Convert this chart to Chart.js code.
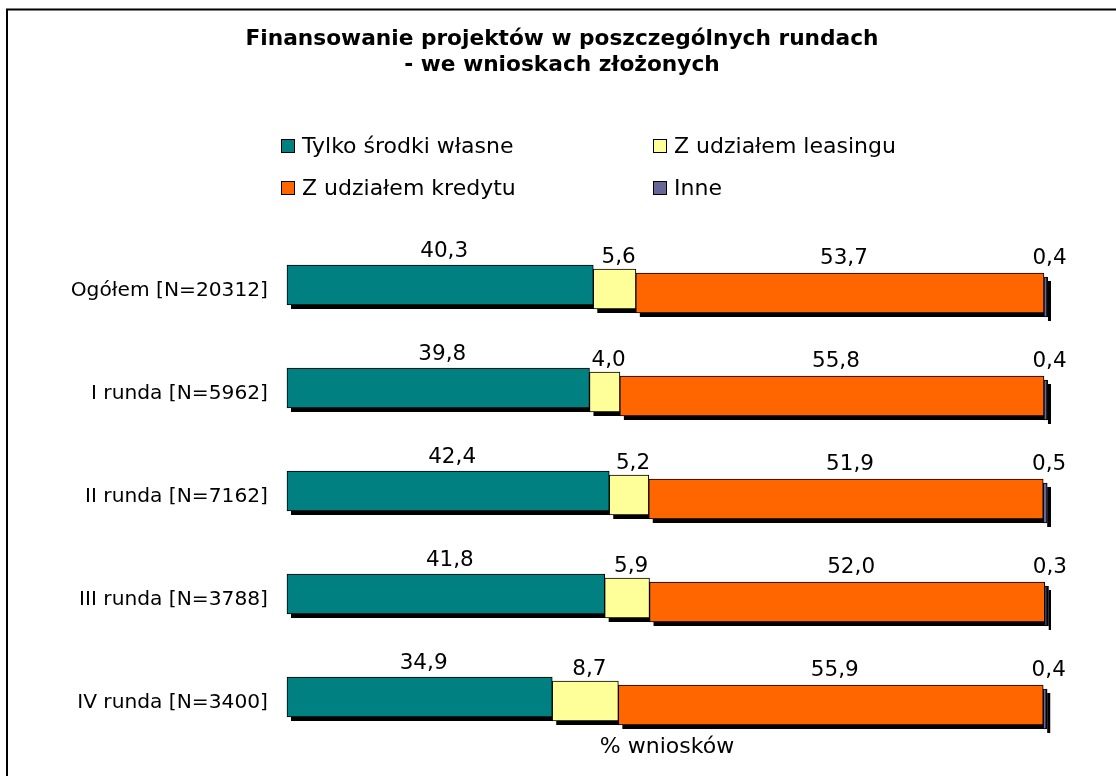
<!DOCTYPE html>
<html>
<head>
<meta charset="utf-8">
<script src="https://cdn.jsdelivr.net/npm/chart.js@4.4.0/dist/chart.umd.min.js"></script>
<style>
html,body{margin:0;padding:0;background:#fff;}
#wrap{position:relative;width:1116px;height:776px;overflow:hidden;}
canvas{display:block;}
</style>
</head>
<body>
<div id="wrap"><canvas id="c" width="1116" height="776"></canvas></div>
<script>
// ---- data ----
const categories = ['Ogółem [N=20312]', 'I runda [N=5962]', 'II runda [N=7162]', 'III runda [N=3788]', 'IV runda [N=3400]'];
const seriesNames = ['Tylko środki własne', 'Z udziałem leasingu', 'Z udziałem kredytu', 'Inne'];
const ownFunds = [40.3, 39.8, 42.4, 41.8, 34.9];
const leasing  = [5.6, 4.0, 5.2, 5.9, 8.7];
const credit   = [53.7, 55.8, 51.9, 52.0, 55.9];
const other    = [0.4, 0.4, 0.5, 0.3, 0.4];
const titleLines = ['Finansowanie projektów w poszczególnych rundach', '- we wnioskach złożonych'];
const axisTitle = '% wniosków';

// ---- style ----
const FONT = 'DejaVu Sans';
const colors = ['#008080', '#FFFF99', '#FF6600', '#666699'];
const depthShift = [-6, -2, 2, 6];        // pseudo-3D stagger per series
const labelShift = [-40, -34, -33, -33];  // label centre relative to category centre
const labelDX = 4;
const fmt = v => v.toFixed(1).replace('.', ',');

const seriesValues = [ownFunds, leasing, credit, other];

const frame = {
  id: 'frame',
  beforeDraw(chart) {
    const ctx = chart.ctx;
    ctx.save();
    ctx.fillStyle = '#fff';
    ctx.fillRect(0, 0, chart.width, chart.height);
    ctx.strokeStyle = '#000';
    ctx.lineWidth = 2;
    ctx.strokeRect(7, 9.5, chart.width + 50, chart.height + 50);
    ctx.restore();
  }
};

// let the long category labels extend left of the layout padding
const labelRoom = {
  id: 'labelRoom',
  afterLayout(chart) {
    chart.scales.y.left = 0;
  }
};

const depth = {
  id: 'depth',
  beforeDatasetsDraw(chart) {
    const ctx = chart.ctx;
    ctx.save();
    ctx.fillStyle = '#000';
    chart.data.datasets.forEach((ds, i) => {
      const meta = chart.getDatasetMeta(i);
      meta.data.forEach(el => {
        const p = el.getProps(['x', 'y', 'base', 'height'], true);
        const left = Math.min(p.x, p.base);
        const w = Math.abs(p.x - p.base);
        ctx.fillRect(left + 4, p.y - p.height / 2 + depthShift[i] + 4, w, p.height);
      });
    });
    ctx.restore();
  },
  beforeDatasetDraw(chart, args) {
    chart.ctx.save();
    chart.ctx.translate(0, depthShift[args.index]);
  },
  afterDatasetDraw(chart) {
    chart.ctx.restore();
  },
  afterDatasetsDraw(chart) {
    const ctx = chart.ctx;
    ctx.save();
    ctx.font = '21.5px "' + FONT + '"';
    ctx.fillStyle = '#000';
    ctx.textAlign = 'center';
    ctx.textBaseline = 'middle';
    chart.data.datasets.forEach((ds, i) => {
      const meta = chart.getDatasetMeta(i);
      meta.data.forEach((el, j) => {
        const p = el.getProps(['x', 'y', 'base'], true);
        ctx.fillText(fmt(ds.data[j]), (p.x + p.base) / 2 + labelDX, p.y + labelShift[i]);
      });
    });
    ctx.restore();
  }
};

const legend2x2 = {
  id: 'legend2x2',
  afterDraw(chart) {
    const ctx = chart.ctx;
    const colX = [281, 653];
    const rowY = [146, 188];
    ctx.save();
    ctx.font = '22px "' + FONT + '"';
    ctx.textBaseline = 'middle';
    ctx.textAlign = 'left';
    chart.data.datasets.forEach((ds, i) => {
      const cx = colX[i % 2], cy = rowY[Math.floor(i / 2)];
      ctx.fillStyle = ds.backgroundColor;
      ctx.fillRect(cx, cy - 7, 14, 14);
      ctx.strokeStyle = '#000';
      ctx.lineWidth = 1;
      ctx.strokeRect(cx + 0.5, cy - 6.5, 13, 13);
      ctx.fillStyle = '#000';
      ctx.fillText(ds.label, cx + 21, cy + 1);
    });
    ctx.restore();
  }
};

Chart.defaults.font.family = FONT;
Chart.defaults.color = '#000';

new Chart(document.getElementById('c'), {
  type: 'bar',
  data: {
    labels: categories,
    datasets: seriesValues.map((vals, i) => ({
      label: seriesNames[i],
      data: vals,
      backgroundColor: colors[i],
      borderColor: '#000',
      borderWidth: 1,
      borderSkipped: false,
      barThickness: 40,
      clip: false
    }))
  },
  options: {
    indexAxis: 'y',
    responsive: false,
    animation: false,
    devicePixelRatio: 1,
    layout: { padding: { top: 10, left: 77, right: 69, bottom: 15.8 } },
    plugins: {
      legend: { display: false },
      tooltip: { enabled: false },
      title: {
        display: true,
        text: titleLines,
        color: '#000',
        font: { family: FONT, size: 21.7, weight: 'bold', lineHeight: 26 / 21.7 },
        padding: { top: 16, bottom: 161.5 }
      }
    },
    scales: {
      x: {
        stacked: true,
        min: 0,
        max: 100,
        grid: { display: false, drawTicks: false },
        border: { display: false },
        ticks: { display: false },
        title: {
          display: true,
          text: axisTitle,
          color: '#000',
          font: { family: FONT, size: 22, lineHeight: 1.2 },
          padding: { top: -20.7, bottom: 0 }
        }
      },
      y: {
        stacked: true,
        grid: { display: false, drawTicks: false },
        border: { display: false },
        ticks: { color: '#000', font: { family: FONT, size: 20.2 }, padding: 19 },
        afterFit(scale) {
          scale.width = 210;
          scale.paddingTop = 0;
          scale.paddingBottom = 0;
        }
      }
    }
  },
  plugins: [frame, labelRoom, depth, legend2x2]
});
</script>
</body>
</html>
